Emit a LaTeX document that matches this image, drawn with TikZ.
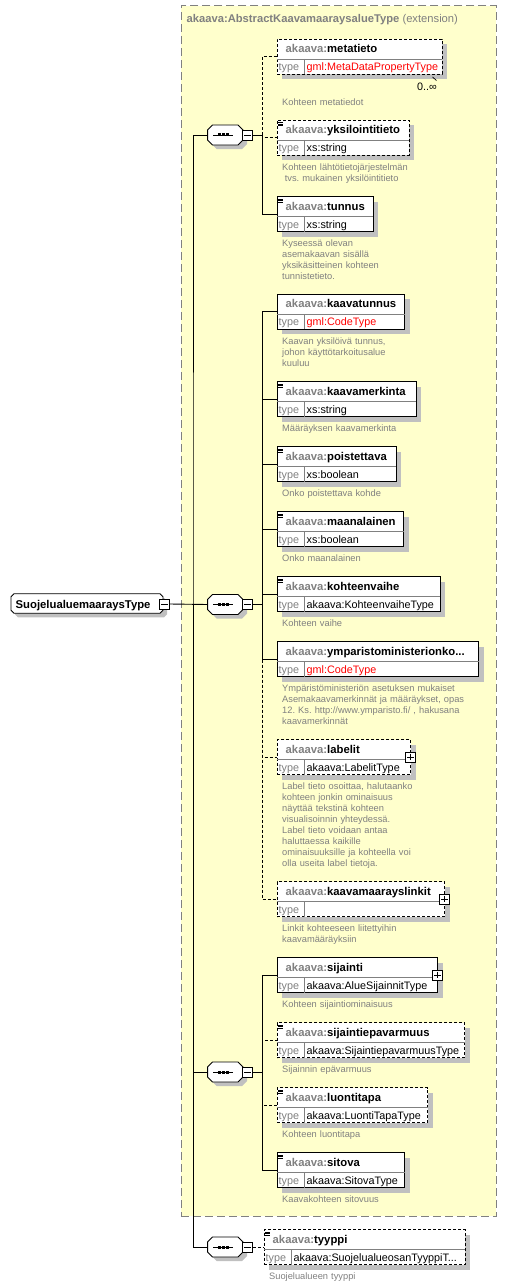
\documentclass[tikz,border=0pt]{standalone}
\usepackage{fontspec}
\setmainfont{Liberation Sans}
\usetikzlibrary{calc}
\frenchspacing

\definecolor{extyellow}{RGB}{255,255,204}
\definecolor{shadowgray}{RGB}{192,192,192}
\definecolor{prefixgray}{RGB}{128,128,128}
\definecolor{docgray}{RGB}{128,128,128}
\definecolor{gmlred}{RGB}{255,0,0}

\pgfdeclarelayer{back}
\pgfdeclarelayer{shade}
\pgfsetlayers{back,shade,main}

\tikzset{
  wire/.style={line width=0.9pt},
  optional/.style={dash pattern=on 3pt off 2pt},
  elbox/.style={draw,fill=white,line width=0.9pt,minimum height=35pt,inner sep=0pt,outer sep=0pt},
  elshade/.style={fill=shadowgray},
  divider/.style={prefixgray,line width=0.8pt},
  elname/.style={inner sep=0pt,anchor=base west,font=\fontsize{11.3}{13}\selectfont\bfseries},
  eltype/.style={inner sep=0pt,anchor=base west,font=\fontsize{10.8}{13}\selectfont},
  doctext/.style={inner sep=0pt,anchor=base west,text=docgray,align=left,text width=220pt,
    font=\fontsize{9.3}{11}\selectfont},
  seqbox/.style={minimum width=35.5pt,minimum height=20pt,inner sep=0pt,outer sep=0pt},
  rootbox/.style={minimum width=152pt,minimum height=19.5pt,inner sep=0pt,outer sep=0pt},
  pmbox/.style={draw,fill=white,line width=0.9pt,minimum size=10pt,inner sep=0pt},
  extbox/.style={draw=prefixgray,fill=extyellow,line width=0.9pt,dash pattern=on 8pt off 4pt,inner sep=0pt},
}

% element: name, border, left, top, width, element, type
\newcommand{\xsdelem}[7]{%
  \node[elbox,#2,minimum width=#5pt,anchor=north west] (#1) at (#3,#4) {};
  \begin{pgfonlayer}{shade}
    \fill[shadowgray] ($(#1.north west)+(5,5)$) rectangle ($(#1.south east)+(5,5)$);
  \end{pgfonlayer}
  \draw[divider] ($(#1.north west)+(0,20)$) -- ($(#1.north east)+(0,20)$);
  \draw[divider] ($(#1.north west)+(27.5,20)$) -- ($(#1.south west)+(27.5,0)$);
  \node[elname] (#1-name) at ($(#1.north west)+(8.5,13.5)$) {\textcolor{prefixgray}{akaava:}#6};
  \node[eltype,text=prefixgray] (#1-kind) at ($(#1.north west)+(1.5,31.5)$) {type};
  \node[eltype] (#1-type) at ($(#1.north west)+(29.5,31.5)$) {#7};
}
% simple content mark
\newcommand{\simpleicon}[1]{%
  \foreach \dy in {2.3,4,5.7}
    \draw[line width=0.6pt] ($(#1.north west)+(1.3,\dy)$) -- ++(5,0);
}
% chamfered outline round a node: node, chamfer, offset, options
\newcommand{\octshape}[4]{%
  \path[#4] ($(#1.north west)+(#2+#3,#3)$) -- ($(#1.north east)+(-#2+#3,#3)$)
    -- ($(#1.north east)+(#3,#2+#3)$) -- ($(#1.south east)+(#3,-#2+#3)$)
    -- ($(#1.south east)+(-#2+#3,#3)$) -- ($(#1.south west)+(#2+#3,#3)$)
    -- ($(#1.south west)+(#3,-#2+#3)$) -- ($(#1.north west)+(#3,#2+#3)$) -- cycle;
}

\begin{document}
\begin{tikzpicture}[x=1pt,y=-1pt]
\useasboundingbox (0,0) rectangle (509,1287);

%extension
\begin{pgfonlayer}{back}
\node[extbox,minimum width=315.5pt,minimum height=1210.5pt,anchor=north west] (ext) at (180.5,5.5) {};
\end{pgfonlayer}
\node[inner sep=0pt,anchor=base west,text=prefixgray,font=\fontsize{11.2}{13}\selectfont] (ext-title)
  at (186.5,22.5) {\textbf{akaava:AbstractKaavamaaraysalueType} (extension)};

%root
\node[rootbox] (root) at (87,603.5) {};
\octshape{root}{3}{4}{elshade}
\octshape{root}{3}{0}{draw,fill=white,line width=0.9pt}
\node[elname] (root-name) at (15.5,608) {SuojelualuemaaraysType};
\node[pmbox] (root-minus) at (164.5,604) {};

%sequences
\node[seqbox] (seq1) at (225.3,135) {};
\node[seqbox] (seq2) at (225.3,604.5) {};
\node[seqbox] (seq3) at (225.3,1072) {};
\node[seqbox] (seq4) at (225.3,1247) {};
\foreach \s in {seq1,seq2,seq3,seq4} {
  \octshape{\s}{5}{4}{elshade}
  \octshape{\s}{5}{0}{draw,fill=white,line width=0.9pt}
  \draw[line width=0.9pt] ($(\s.center)+(-12,0)$) -- ($(\s.center)+(8,0)$);
  \foreach \dx in {-6.3,-2,2.4}
    \fill ($(\s.center)+(\dx,0)$) +(-1.5,-1.5) rectangle +(1.5,1.5);
}
\node[pmbox] (seq1-minus) at (247.5,135) {};
\node[pmbox] (seq2-minus) at (247.5,604.5) {};
\node[pmbox] (seq3-minus) at (247.5,1072) {};
\node[pmbox] (seq4-minus) at (247.5,1247) {};

%elements of seq1
\xsdelem{metatieto}{optional}{277}{39}{165}{metatieto}{\textcolor{gmlred}{gml:MetaDataPropertyType}}
\draw[line width=0.7pt] (432.5,77) -- (436.5,80.5);
\node[eltype,anchor=base east] (metatieto-occurs) at ($(metatieto.south east)+(-5,16.5)$) {0..∞};
\node[doctext] (metatieto-doc) at ($(metatieto.south west)+(5,32)$) {Kohteen metatiedot};

\xsdelem{yksilointitieto}{optional}{277}{120}{132}{yksilointitieto}{xs:string}
\node[doctext] (yksilointitieto-doc) at ($(yksilointitieto.south west)+(5,15)$)
  {Kohteen lähtötietojärjestelmän\\\hspace*{2.6pt}tvs. mukainen yksilöintitieto};

\xsdelem{tunnus}{}{277}{196.5}{96}{tunnus}{xs:string}
\node[doctext] (tunnus-doc) at ($(tunnus.south west)+(5,15)$)
  {Kyseessä olevan\\asemakaavan sisällä\\yksikäsitteinen kohteen\\tunnistetieto.};

%elements of seq2
\xsdelem{kaavatunnus}{}{277}{294}{127.5}{kaavatunnus}{\textcolor{gmlred}{gml:CodeType}}
\node[doctext] (kaavatunnus-doc) at ($(kaavatunnus.south west)+(5,15)$)
  {Kaavan yksilöivä tunnus,\\johon käyttötarkoitusalue\\kuuluu};

\xsdelem{kaavamerkinta}{}{277}{381.5}{139}{kaavamerkinta}{xs:string}
\node[doctext] (kaavamerkinta-doc) at ($(kaavamerkinta.south west)+(5,15)$) {Määräyksen kaavamerkinta};

\xsdelem{poistettava}{}{277}{446.5}{119}{poistettava}{xs:boolean}
\node[doctext] (poistettava-doc) at ($(poistettava.south west)+(5,15)$) {Onko poistettava kohde};

\xsdelem{maanalainen}{}{277}{511.5}{126.5}{maanalainen}{xs:boolean}
\node[doctext] (maanalainen-doc) at ($(maanalainen.south west)+(5,15)$) {Onko maanalainen};

\xsdelem{kohteenvaihe}{}{277}{576.5}{163}{kohteenvaihe}{akaava:KohteenvaiheType}
\node[doctext] (kohteenvaihe-doc) at ($(kohteenvaihe.south west)+(5,15)$) {Kohteen vaihe};

\xsdelem{ymparisto}{}{277}{641.5}{201.5}{ymparistoministerionko...}{\textcolor{gmlred}{gml:CodeType}}
\node[doctext] (ymparisto-doc) at ($(ymparisto.south west)+(5,15)$)
  {Ympäristöministeriön asetuksen mukaiset\\Asemakaavamerkinnät ja määräykset, opas\\12. Ks. http://www.ymparisto.fi/ , hakusana\\kaavamerkinnät};

\xsdelem{labelit}{optional}{277}{739.5}{133.5}{labelit}{akaava:LabelitType}
\node[pmbox] (labelit-plus) at (labelit.east) {};
\node[doctext] (labelit-doc) at ($(labelit.south west)+(5,15)$)
  {Label tieto osoittaa, halutaanko\\kohteen jonkin ominaisuus\\näyttää tekstinä kohteen\\visualisoinnin yhteydessä.\\Label tieto voidaan antaa\\haluttaessa kaikille\\ominaisuuksille ja kohteella voi\\olla useita label tietoja.};

\xsdelem{kaavamaarayslinkit}{optional}{277}{881.5}{167.5}{kaavamaarayslinkit}{}
\node[pmbox] (kaavamaarayslinkit-plus) at (kaavamaarayslinkit.east) {};
\node[doctext] (kaavamaarayslinkit-doc) at ($(kaavamaarayslinkit.south west)+(5,15)$)
  {Linkit kohteeseen liitettyihin\\kaavamääräyksiin};

%elements of seq3
\xsdelem{sijainti}{}{277}{957.5}{160.5}{sijainti}{akaava:AlueSijainnitType}
\node[pmbox] (sijainti-plus) at (sijainti.east) {};
\node[doctext] (sijainti-doc) at ($(sijainti.south west)+(5,15)$) {Kohteen sijaintiominaisuus};

\xsdelem{sijaintiepavarmuus}{optional}{277}{1022.5}{187.5}{sijaintiepavarmuus}{akaava:SijaintiepavarmuusType}
\node[doctext] (sijaintiepavarmuus-doc) at ($(sijaintiepavarmuus.south west)+(5,15)$) {Sijainnin epävarmuus};

\xsdelem{luontitapa}{optional}{277}{1087.5}{150.5}{luontitapa}{akaava:LuontiTapaType}
\node[doctext] (luontitapa-doc) at ($(luontitapa.south west)+(5,15)$) {Kohteen luontitapa};

\xsdelem{sitova}{}{277}{1152.5}{127.5}{sitova}{akaava:SitovaType}
\node[doctext] (sitova-doc) at ($(sitova.south west)+(5,15)$) {Kaavakohteen sitovuus};

%element of seq4
\xsdelem{tyyppi}{optional}{264}{1229.5}{201}{tyyppi}{akaava:SuojelualueosanTyyppiT...}
\node[doctext] (tyyppi-doc) at ($(tyyppi.south west)+(5,15)$) {Suojelualueen tyyppi};

\foreach \e in {yksilointitieto,tunnus,kaavamerkinta,poistettava,maanalainen,kohteenvaihe,
  sijaintiepavarmuus,luontitapa,sitova,tyyppi}
  {\simpleicon{\e}}

%plus and minus signs
\foreach \b in {root-minus,seq1-minus,seq2-minus,seq3-minus,seq4-minus}
  \draw[line width=0.8pt] ($(\b.west)+(2,0)$) -- ($(\b.east)+(-2,0)$);
\foreach \b in {labelit-plus,kaavamaarayslinkit-plus,sijainti-plus}
  \draw[line width=0.8pt] ($(\b.west)+(2,0)$) -- ($(\b.east)+(-2,0)$)
    ($(\b.north)+(0,2)$) -- ($(\b.south)+(0,-2)$);

%connectors
\coordinate (trunk) at (193,604.5);
\coordinate (br1) at (262,135);
\coordinate (br2) at (262,604.5);
\coordinate (br3) at (262,1072);
\draw[wire] (root-minus.east) -- (seq2.west);
\draw[wire] (seq1.west) -| (trunk) |- (seq3.west);
\draw[wire] (trunk) |- (seq4.west);
\foreach \s/\b in {seq1/br1,seq2/br2,seq3/br3}
  \draw[wire] (\s-minus.east) -- (\b);
\draw[wire,optional] (seq4-minus.east) -- (tyyppi.west);
\foreach \e in {tunnus}
  \draw[wire] (br1) |- (\e.west);
\foreach \e in {metatieto,yksilointitieto}
  \draw[wire,optional] (br1) |- (\e.west);
\foreach \e in {kaavatunnus,kaavamerkinta,poistettava,maanalainen,kohteenvaihe,ymparisto}
  \draw[wire] (br2) |- (\e.west);
\foreach \e in {labelit,kaavamaarayslinkit}
  \draw[wire,optional] (br2) |- (\e.west);
\foreach \e in {sijainti,sitova}
  \draw[wire] (br3) |- (\e.west);
\foreach \e in {sijaintiepavarmuus,luontitapa}
  \draw[wire,optional] (br3) |- (\e.west);
\end{tikzpicture}
\end{document}
